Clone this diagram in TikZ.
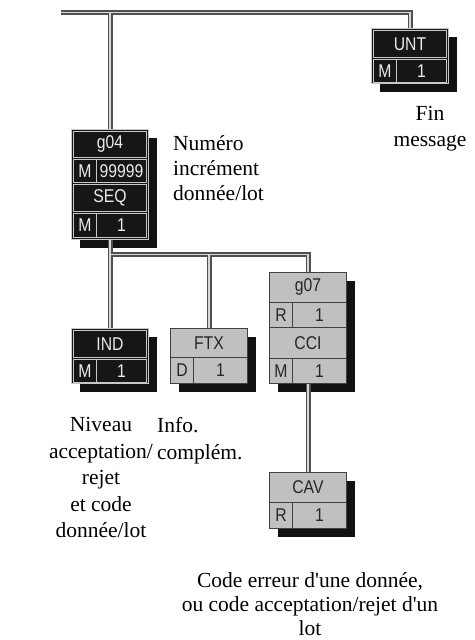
\documentclass[tikz,border=0pt]{standalone}
\usepackage{fontspec}
\setmainfont{Liberation Serif}
\newfontfamily\boxfont[FakeStretch=0.85]{Liberation Sans}
\usetikzlibrary{shadows}
\definecolor{boxblack}{HTML}{161616}
\definecolor{lightline}{HTML}{C8C8C8}
\definecolor{boxgray}{HTML}{C0C0C0}
\definecolor{darkline}{HTML}{404040}
\definecolor{wireout}{HTML}{505050}
\definecolor{wirein}{HTML}{D8D8D8}
\definecolor{shadowc}{HTML}{111111}
\tikzset{
  boxshadow/.style={drop shadow={shadow xshift=8pt, shadow yshift=-8pt, opacity=1, fill=shadowc}},
  frameb/.style={draw=lightline, fill=boxblack, line width=1pt, inner sep=0pt, anchor=north west, minimum width=77pt, boxshadow},
  frameg/.style={draw=darkline, fill=boxgray, line width=1pt, inner sep=0pt, anchor=north west, minimum width=77pt, boxshadow},
  cellb/.style={draw=lightline, line width=0.9pt, inner sep=0pt, anchor=north west, text=white!92!black, font=\boxfont\fontsize{18.5}{18.5}\selectfont},
  cellg/.style={draw=darkline, line width=0.9pt, inner sep=0pt, anchor=north west, text=black!85, font=\boxfont\fontsize{18.5}{18.5}\selectfont},
  wA/.style={draw=wireout, line width=5pt},
  wB/.style={draw=wirein, line width=1.6pt},
  lbl/.style={font=\fontsize{21.5}{24.5}\selectfont, inner sep=0pt, align=center},
}
\begin{document}
\begin{tikzpicture}[x=1pt, y=-1pt]
\useasboundingbox (0,0) rectangle (474,640);
% UNT
\node[frameb, minimum height=55pt] (unt) at (371,28) {};
\node[cellb, minimum width=73pt, minimum height=27pt] (untH) at (373,30) {UNT};
\node[cellb, minimum width=23pt, minimum height=23pt] (untC) at (373,59) {M};
\node[cellb, minimum width=50pt, minimum height=23pt] (untV) at (396,59) {1};
% g04 / SEQ
\node[frameb, minimum height=110pt] (g04) at (71,129) {};
\node[cellb, minimum width=73pt, minimum height=26pt] (g04H) at (73,131) {g04};
\node[cellb, minimum width=23pt, minimum height=23pt] (g04C) at (73,159) {M};
\node[cellb, minimum width=50pt, minimum height=23pt] (g04V) at (96,159) {99999};
\node[cellb, minimum width=73pt, minimum height=27pt] (seqH) at (73,184) {SEQ};
\node[cellb, minimum width=23pt, minimum height=24pt] (seqC) at (73,213) {M};
\node[cellb, minimum width=50pt, minimum height=24pt] (seqV) at (96,213) {1};
% IND
\node[frameb, minimum height=55pt] (ind) at (71,328) {};
\node[cellb, minimum width=73pt, minimum height=27pt] (indH) at (73,330) {IND};
\node[cellb, minimum width=23pt, minimum height=23pt] (indC) at (73,359) {M};
\node[cellb, minimum width=50pt, minimum height=23pt] (indV) at (96,359) {1};
% FTX
\node[frameg, minimum height=55pt] (ftx) at (170,328) {};
\node[cellg, minimum width=77pt, minimum height=29pt] (ftxH) at (170,328) {FTX};
\node[cellg, minimum width=23pt, minimum height=26pt] (ftxC) at (170,357) {D};
\node[cellg, minimum width=54pt, minimum height=26pt] (ftxV) at (193,357) {1};
% g07 / CCI
\node[frameg, minimum height=111pt] (g07) at (269,272) {};
\node[cellg, minimum width=77pt, minimum height=30pt] (g07H) at (269,272) {g07};
\node[cellg, minimum width=23pt, minimum height=25pt] (g07C) at (269,302) {R};
\node[cellg, minimum width=54pt, minimum height=25pt] (g07V) at (292,302) {1};
\node[cellg, minimum width=77pt, minimum height=31pt] (cciH) at (269,327) {CCI};
\node[cellg, minimum width=23pt, minimum height=25pt] (cciC) at (269,358) {M};
\node[cellg, minimum width=54pt, minimum height=25pt] (cciV) at (292,358) {1};
% CAV
\node[frameg, minimum height=56pt] (cav) at (269,472) {};
\node[cellg, minimum width=77pt, minimum height=30pt] (cavH) at (269,472) {CAV};
\node[cellg, minimum width=23pt, minimum height=26pt] (cavC) at (269,502) {R};
\node[cellg, minimum width=54pt, minimum height=26pt] (cavV) at (292,502) {1};
% connectors
\coordinate (topL) at (61,12.5);
\coordinate (bus) at (0,254.5);
\foreach \w in {wA,wB}{
  \draw[\w] (topL) -- (topL -| unt.north) -- (unt.north);
  \draw[\w] (g04.north) -- (g04.north |- topL);
  \draw[\w] (ind.north) -- (ind.north |- bus) -- (bus -| g07.north) -- (g07.north);
  \draw[\w] (g04.south) -- (g04.south |- bus);
  \draw[\w] (ftx.north) -- (ftx.north |- bus);
  \draw[\w] (g07.south) -- (cav.north);
}
% labels
\node[lbl, anchor=north, font=\fontsize{21.5}{26.5}\selectfont] (tfin) at (430,106) {Fin\\message};
\node[lbl, anchor=north west, align=left, font=\fontsize{21.5}{25}\selectfont] (tnum) at (173,135.5) {Numéro\\incrément\\donnée/lot};
\node[lbl, anchor=north, font=\fontsize{21.5}{26.5}\selectfont] (tniv) at (101,417.3) {Niveau\\acceptation/\\rejet\\et code\\donnée/lot};
\node[lbl, anchor=north west, align=left, font=\fontsize{21.5}{26.5}\selectfont] (tinf) at (157,417.3) {Info.\\complém.};
\node[lbl, anchor=north, font=\fontsize{21.5}{24}\selectfont] (tcode) at (310,572.5) {Code erreur d\textquotesingle une donnée,\\ou code acceptation/rejet d\textquotesingle un\\lot};
\end{tikzpicture}
\end{document}
